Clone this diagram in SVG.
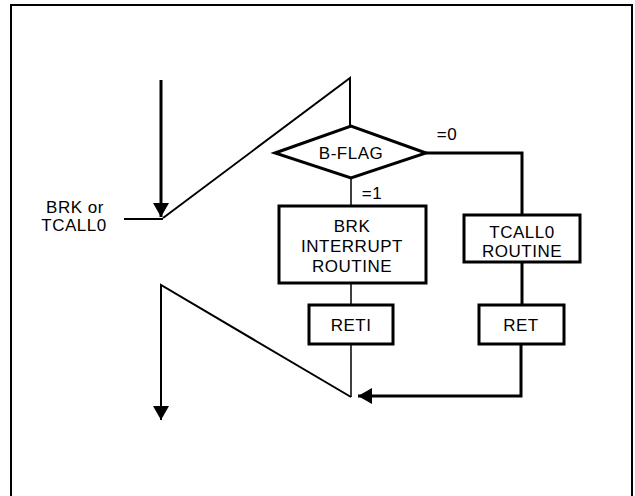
<svg xmlns="http://www.w3.org/2000/svg" width="635" height="496" viewBox="0 0 635 496">
<style>
text{font-family:"Liberation Sans",Arial,sans-serif;font-size:17px;letter-spacing:0.5px;fill:#000;text-anchor:middle}
.box{fill:#fff;stroke:#000;stroke-width:3}
.thick{fill:none;stroke:#000;stroke-width:3}
.med{fill:none;stroke:#000;stroke-width:2}
.thin{fill:none;stroke:#000;stroke-width:1.5}
</style>
<defs>
<marker id="ah" markerUnits="userSpaceOnUse" markerWidth="16" markerHeight="16" refX="14" refY="8" orient="auto">
<path d="M0,0 L14,8 L0,16 Z" fill="#000"/>
</marker>
</defs>
<rect x="0" y="0" width="635" height="496" fill="#fff"/>
<path d="M11,500 L11,5 L632,5 L632,500" fill="none" stroke="#000" stroke-width="2"/>
<g id="connectors">
<line class="thick" x1="161" y1="80" x2="161" y2="217" marker-end="url(#ah)"/>
<line class="med" x1="124" y1="219" x2="163" y2="219"/>
<polyline class="med" points="163,218 350,78 350,126"/>
<line class="thin" x1="351" y1="178" x2="351" y2="205"/>
<polyline class="thick" points="426,153 522,153 522,214"/>
<line class="thin" x1="351" y1="283" x2="351" y2="304"/>
<line class="thick" x1="522" y1="262" x2="522" y2="304"/>
<line class="thin" x1="351" y1="344" x2="351" y2="397"/>
<polyline class="thick" points="521,344 521,396 358,396" marker-end="url(#ah)"/>
<polyline class="med" points="351,397 161,285 161,420" marker-end="url(#ah)"/>
</g>
<g id="input-label">
<text x="75" y="213">BRK or</text>
<text x="74" y="231">TCALL0</text>
</g>
<g id="bflag">
<polygon class="box" points="275,153 351,126 426,153 351,178" stroke-width="2.5"/>
<text x="351" y="159">B-FLAG</text>
</g>
<g id="label-0"><text x="447" y="140">=0</text></g>
<g id="label-1"><text x="372" y="199">=1</text></g>
<g id="brk-routine">
<rect class="box" x="279" y="206" width="147" height="77"/>
<text x="352" y="232">BRK</text>
<text x="352" y="252">INTERRUPT</text>
<text x="352" y="272">ROUTINE</text>
</g>
<g id="tcall0-routine">
<rect class="box" x="464" y="215" width="116" height="47"/>
<text x="522" y="238">TCALL0</text>
<text x="522" y="257">ROUTINE</text>
</g>
<g id="reti">
<rect class="box" x="309" y="305" width="84" height="39"/>
<text x="351" y="331">RETI</text>
</g>
<g id="ret">
<rect class="box" x="479" y="305" width="85" height="39"/>
<text x="521" y="331">RET</text>
</g>
</svg>
